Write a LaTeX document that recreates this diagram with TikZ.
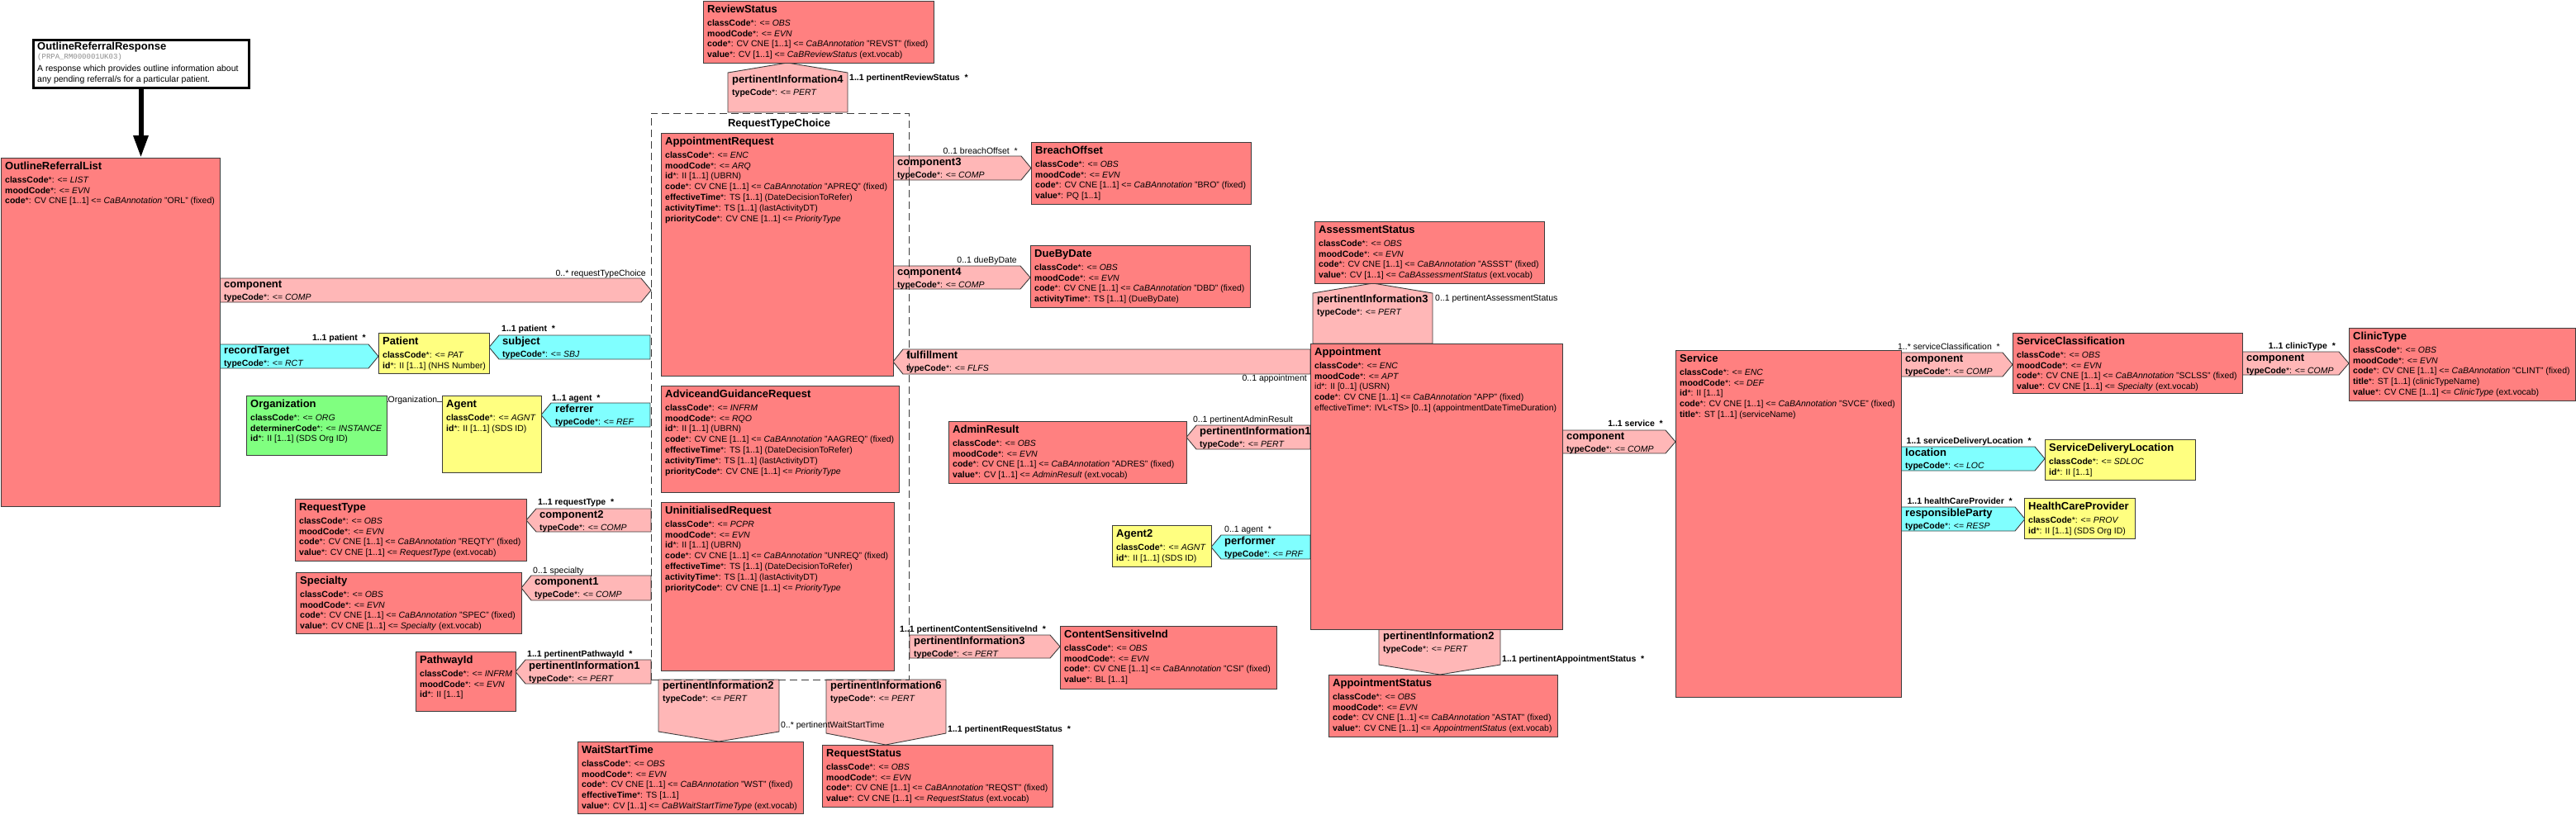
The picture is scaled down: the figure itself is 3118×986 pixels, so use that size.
\documentclass[tikz,border=0pt]{standalone}
\usepackage{fontspec}
\setmainfont{Liberation Sans}
\setmonofont{Liberation Mono}
\usetikzlibrary{arrows.meta}

\definecolor{actred}{RGB}{255,128,128}
\definecolor{relred}{RGB}{255,183,183}
\definecolor{partcyan}{RGB}{128,255,255}
\definecolor{roleyel}{RGB}{255,255,128}
\definecolor{entgrn}{RGB}{128,255,128}
\definecolor{lineclr}{RGB}{60,60,60}

\newcommand{\attrfont}{\fontsize{10.5}{12.8}\selectfont}
\newcommand{\clsname}[1]{{\fontsize{13}{15}\selectfont\bfseries\rule{0pt}{10pt}#1}}
\newcommand{\atn}[1]{\textbf{#1}*: }
\newcommand{\cab}{\textit{CaBAnnotation}}
\newcommand{\relbody}[2]{\clsname{#1}\\[1.5pt]\atn{typeCode}<= \textit{#2}}

\begin{document}
\begin{tikzpicture}[x=1pt, y=-1pt,
    box/.style={draw=lineclr, line width=0.9pt, anchor=north west, inner sep=0pt, outer sep=0pt},
    act/.style={box, fill=actred},
    role/.style={box, fill=roleyel},
    ent/.style={box, fill=entgrn},
    txt/.style={anchor=north west, align=left, inner sep=0pt, font=\attrfont},
    rel/.style={draw=lineclr, line width=0.9pt, fill=relred},
    part/.style={draw=lineclr, line width=0.9pt, fill=partcyan},
    mand/.style={inner sep=0pt, font=\attrfont\bfseries},
    opt/.style={inner sep=0pt, font=\attrfont}]

\fill[white] (0,0) rectangle (3118,986);
\useasboundingbox (0,0) rectangle (3118,986);

% act relationships and participations
\draw[rel] (266,337) -- (776,337) -- (788,351.5) -- (776,366) -- (266,366) -- cycle;
\node[txt] (comp0) at (271,338.7) {\relbody{component}{COMP}};
\draw[part] (266,417) -- (446,417) -- (458,431.5) -- (446,446) -- (266,446) -- cycle;
\node[txt] (rct) at (271,418.7) {\relbody{recordTarget}{RCT}};
\draw[part] (592,420.5) -- (604,406) -- (787,406) -- (787,435) -- (604,435) -- cycle;
\node[txt] (sbj) at (608,407.7) {\relbody{subject}{SBJ}};
\draw[part] (655,502.5) -- (667,488) -- (787,488) -- (787,517) -- (667,517) -- cycle;
\node[txt] (ref) at (672,489.7) {\relbody{referrer}{REF}};
\draw[rel] (637,630) -- (649,616) -- (788,616) -- (788,644) -- (649,644) -- cycle;
\node[txt] (comp2) at (653,617.7) {\relbody{component2}{COMP}};
\draw[rel] (631,712) -- (643,697) -- (788,697) -- (788,727) -- (643,727) -- cycle;
\node[txt] (comp1) at (647,698.7) {\relbody{component1}{COMP}};
\draw[rel] (624,813.5) -- (636,799) -- (788,799) -- (788,828) -- (636,828) -- cycle;
\node[txt] (pert1) at (640,800.7) {\relbody{pertinentInformation1}{PERT}};
\draw[rel] (881,136) -- (881,88) -- (953,76) -- (1026,88) -- (1026,136) -- cycle;
\node[txt] (pert4) at (886,90.5) {\relbody{pertinentInformation4}{PERT}};
\draw[rel] (1081,189) -- (1236,189) -- (1248,203.5) -- (1236,218) -- (1081,218) -- cycle;
\node[txt] (comp3) at (1086,190.7) {\relbody{component3}{COMP}};
\draw[rel] (1081,322) -- (1235,322) -- (1247,336) -- (1235,350) -- (1081,350) -- cycle;
\node[txt] (comp4) at (1086,323.7) {\relbody{component4}{COMP}};
\draw[rel] (1081,438) -- (1093,423) -- (1586,423) -- (1586,453) -- (1093,453) -- cycle;
\node[txt] (fulf) at (1097,424.7) {\relbody{fulfillment}{FLFS}};
\draw[rel] (1436,529.5) -- (1448,515) -- (1586,515) -- (1586,544) -- (1448,544) -- cycle;
\node[txt] (pert1b) at (1452,516.7) {\relbody{pertinentInformation1}{PERT}};
\draw[part] (1466,662.5) -- (1478,648) -- (1586,648) -- (1586,677) -- (1478,677) -- cycle;
\node[txt] (perf) at (1482,649.7) {\relbody{performer}{PRF}};
\draw[rel] (1589,416) -- (1589,355) -- (1662,343) -- (1734,355) -- (1734,416) -- cycle;
\node[txt] (pert3a) at (1594,356.5) {\relbody{pertinentInformation3}{PERT}};
\draw[rel] (1891,521) -- (2016,521) -- (2028,535) -- (2016,549) -- (1891,549) -- cycle;
\node[txt] (comp5) at (1896,522.7) {\relbody{component}{COMP}};
\draw[rel] (1669,762) -- (1816,762) -- (1816,805) -- (1743,817) -- (1669,805) -- cycle;
\node[txt] (pert2a) at (1674,764.5) {\relbody{pertinentInformation2}{PERT}};
\draw[rel] (2301,427) -- (2424,427) -- (2436,441.5) -- (2424,456) -- (2301,456) -- cycle;
\node[txt] (comp6) at (2306,428.7) {\relbody{component}{COMP}};
\draw[part] (2301,541) -- (2463,541) -- (2475,555.5) -- (2463,570) -- (2301,570) -- cycle;
\node[txt] (loc) at (2306,542.7) {\relbody{location}{LOC}};
\draw[part] (2301,614) -- (2439,614) -- (2451,628.5) -- (2439,643) -- (2301,643) -- cycle;
\node[txt] (resp) at (2306,615.7) {\relbody{responsibleParty}{RESP}};
\draw[rel] (2714,426) -- (2831,426) -- (2843,440) -- (2831,454) -- (2714,454) -- cycle;
\node[txt] (comp7) at (2719,427.7) {\relbody{component}{COMP}};
\draw[rel] (797,823) -- (943,823) -- (943,886) -- (870,898) -- (797,886) -- cycle;
\node[txt] (pert2b) at (802,824.5) {\relbody{pertinentInformation2}{PERT}};
\draw[rel] (1000,823) -- (1145,823) -- (1145,888) -- (1072,902) -- (1000,888) -- cycle;
\node[txt] (pert6) at (1005,824.5) {\relbody{pertinentInformation6}{PERT}};
\draw[rel] (1101,769) -- (1271,769) -- (1283,783) -- (1271,797) -- (1101,797) -- cycle;
\node[txt] (pert3b) at (1106,770.7) {\relbody{pertinentInformation3}{PERT}};

% entry point
\node[box, line width=3pt, draw=black, fill=white, minimum width=261, minimum height=58] (orr) at (40,48) {};
\node[txt] (orr-t) at (45,50) {\clsname{OutlineReferralResponse}\\[-1.8pt]
  {\fontsize{9}{10}\selectfont\ttfamily\color{black!45}(PRPA\_RM000001UK03)}\\[2.2pt]
  A response which provides outline information about\\[0.2pt]
  any pending referral/s for a particular patient.};

\node[act, minimum width=265, minimum height=422] (list) at (1,191) {};
\node[txt] (list-t) at ([shift={(5,4.5)}]list.north west) {\clsname{OutlineReferralList}\\[2.7pt]
  \atn{classCode}<= \textit{LIST}\\
  \atn{moodCode}<= \textit{EVN}\\
  \atn{code}CV CNE [1..1] <= \cab{} "ORL" (fixed)};
\draw[line width=6pt, -{Triangle[length=27pt, width=17pt]}] (orr.south) -- (orr.south |- list.north);

\node[role, minimum width=134, minimum height=49] (pat) at (458,403) {};
\node[txt] (pat-t) at ([shift={(5,4.5)}]pat.north west) {\clsname{Patient}\\[2.7pt]
  \atn{classCode}<= \textit{PAT}\\
  \atn{id}II [1..1] (NHS Number)};

\node[ent, minimum width=170, minimum height=72] (org) at (298,479) {};
\node[txt] (org-t) at ([shift={(5,4.5)}]org.north west) {\clsname{Organization}\\[2.7pt]
  \atn{classCode}<= \textit{ORG}\\
  \atn{determinerCode}<= \textit{INSTANCE}\\
  \atn{id}II [1..1] (SDS Org ID)};

\node[role, minimum width=120, minimum height=93] (agent) at (535,479) {};
\node[txt] (agent-t) at ([shift={(5,4.5)}]agent.north west) {\clsname{Agent}\\[2.7pt]
  \atn{classCode}<= \textit{AGNT}\\
  \atn{id}II [1..1] (SDS ID)};

\draw[line width=0.9pt, lineclr] (org.east |- 0,486) -- (agent.west |- 0,486);
\node[opt, fill=white, anchor=west] (orgrole) at (469.5,485) {Organization};

\node[act, minimum width=280, minimum height=75] (reqtype) at (357,604) {};
\node[txt] (reqtype-t) at ([shift={(5,4.5)}]reqtype.north west) {\clsname{RequestType}\\[2.7pt]
  \atn{classCode}<= \textit{OBS}\\
  \atn{moodCode}<= \textit{EVN}\\
  \atn{code}CV CNE [1..1] <= \cab{} "REQTY" (fixed)\\
  \atn{value}CV CNE [1..1] <= \textit{RequestType} (ext.vocab)};

\node[act, minimum width=273, minimum height=74] (spec) at (358,693) {};
\node[txt] (spec-t) at ([shift={(5,4.5)}]spec.north west) {\clsname{Specialty}\\[2.7pt]
  \atn{classCode}<= \textit{OBS}\\
  \atn{moodCode}<= \textit{EVN}\\
  \atn{code}CV CNE [1..1] <= \cab{} "SPEC" (fixed)\\
  \atn{value}CV CNE [1..1] <= \textit{Specialty} (ext.vocab)};

\node[act, minimum width=121, minimum height=72] (pathway) at (503,789) {};
\node[txt] (pathway-t) at ([shift={(5,4.5)}]pathway.north west) {\clsname{PathwayId}\\[2.7pt]
  \atn{classCode}<= \textit{INFRM}\\
  \atn{moodCode}<= \textit{EVN}\\
  \atn{id}II [1..1]};

\node[act, minimum width=279, minimum height=75] (review) at (851,1) {};
\node[txt] (review-t) at ([shift={(5,4.5)}]review.north west) {\clsname{ReviewStatus}\\[2.7pt]
  \atn{classCode}<= \textit{OBS}\\
  \atn{moodCode}<= \textit{EVN}\\
  \atn{code}CV CNE [1..1] <= \cab{} "REVST" (fixed)\\
  \atn{value}CV [1..1] <= \textit{CaBReviewStatus} (ext.vocab)};

\node[act, minimum width=281, minimum height=294] (aptreq) at (800,161) {};
\node[txt] (aptreq-t) at ([shift={(5,4.5)}]aptreq.north west) {\clsname{AppointmentRequest}\\[2.7pt]
  \atn{classCode}<= \textit{ENC}\\
  \atn{moodCode}<= \textit{ARQ}\\
  \atn{id}II [1..1] (UBRN)\\
  \atn{code}CV CNE [1..1] <= \cab{} "APREQ" (fixed)\\
  \atn{effectiveTime}TS [1..1] (DateDecisionToRefer)\\
  \atn{activityTime}TS [1..1] (lastActivityDT)\\
  \atn{priorityCode}CV CNE [1..1] <= \textit{PriorityType}};

\node[act, minimum width=288, minimum height=129] (advice) at (800,467) {};
\node[txt] (advice-t) at ([shift={(5,4.5)}]advice.north west) {\clsname{AdviceandGuidanceRequest}\\[2.7pt]
  \atn{classCode}<= \textit{INFRM}\\
  \atn{moodCode}<= \textit{RQO}\\
  \atn{id}II [1..1] (UBRN)\\
  \atn{code}CV CNE [1..1] <= \cab{} "AAGREQ" (fixed)\\
  \atn{effectiveTime}TS [1..1] (DateDecisionToRefer)\\
  \atn{activityTime}TS [1..1] (lastActivityDT)\\
  \atn{priorityCode}CV CNE [1..1] <= \textit{PriorityType}};

\node[act, minimum width=282, minimum height=204] (uninit) at (800,608) {};
\node[txt] (uninit-t) at ([shift={(5,4.5)}]uninit.north west) {\clsname{UninitialisedRequest}\\[2.7pt]
  \atn{classCode}<= \textit{PCPR}\\
  \atn{moodCode}<= \textit{EVN}\\
  \atn{id}II [1..1] (UBRN)\\
  \atn{code}CV CNE [1..1] <= \cab{} "UNREQ" (fixed)\\
  \atn{effectiveTime}TS [1..1] (DateDecisionToRefer)\\
  \atn{activityTime}TS [1..1] (lastActivityDT)\\
  \atn{priorityCode}CV CNE [1..1] <= \textit{PriorityType}};

\node[act, minimum width=266, minimum height=75] (breach) at (1248,172) {};
\node[txt] (breach-t) at ([shift={(5,4.5)}]breach.north west) {\clsname{BreachOffset}\\[2.7pt]
  \atn{classCode}<= \textit{OBS}\\
  \atn{moodCode}<= \textit{EVN}\\
  \atn{code}CV CNE [1..1] <= \cab{} "BRO" (fixed)\\
  \atn{value}PQ [1..1]};

\node[act, minimum width=266, minimum height=75] (dueby) at (1247,297) {};
\node[txt] (dueby-t) at ([shift={(5,4.5)}]dueby.north west) {\clsname{DueByDate}\\[2.7pt]
  \atn{classCode}<= \textit{OBS}\\
  \atn{moodCode}<= \textit{EVN}\\
  \atn{code}CV CNE [1..1] <= \cab{} "DBD" (fixed)\\
  \atn{activityTime}TS [1..1] (DueByDate)};

\node[act, minimum width=288, minimum height=75] (admin) at (1148,510) {};
\node[txt] (admin-t) at ([shift={(5,4.5)}]admin.north west) {\clsname{AdminResult}\\[2.7pt]
  \atn{classCode}<= \textit{OBS}\\
  \atn{moodCode}<= \textit{EVN}\\
  \atn{code}CV CNE [1..1] <= \cab{} "ADRES" (fixed)\\
  \atn{value}CV [1..1] <= \textit{AdminResult} (ext.vocab)};

\node[role, minimum width=120, minimum height=50] (agent2) at (1346,636) {};
\node[txt] (agent2-t) at ([shift={(5,4.5)}]agent2.north west) {\clsname{Agent2}\\[2.7pt]
  \atn{classCode}<= \textit{AGNT}\\
  \atn{id}II [1..1] (SDS ID)};

\node[act, minimum width=262, minimum height=76] (csi) at (1283,758) {};
\node[txt] (csi-t) at ([shift={(5,4.5)}]csi.north west) {\clsname{ContentSensitiveInd}\\[2.7pt]
  \atn{classCode}<= \textit{OBS}\\
  \atn{moodCode}<= \textit{EVN}\\
  \atn{code}CV CNE [1..1] <= \cab{} "CSI" (fixed)\\
  \atn{value}BL [1..1]};

\node[act, minimum width=273, minimum height=87] (wst) at (699,898) {};
\node[txt] (wst-t) at ([shift={(5,4.5)}]wst.north west) {\clsname{WaitStartTime}\\[2.7pt]
  \atn{classCode}<= \textit{OBS}\\
  \atn{moodCode}<= \textit{EVN}\\
  \atn{code}CV CNE [1..1] <= \cab{} "WST" (fixed)\\
  \atn{effectiveTime}TS [1..1]\\
  \atn{value}CV [1..1] <= \textit{CaBWaitStartTimeType} (ext.vocab)};

\node[act, minimum width=279, minimum height=75] (reqstat) at (995,902) {};
\node[txt] (reqstat-t) at ([shift={(5,4.5)}]reqstat.north west) {\clsname{RequestStatus}\\[2.7pt]
  \atn{classCode}<= \textit{OBS}\\
  \atn{moodCode}<= \textit{EVN}\\
  \atn{code}CV CNE [1..1] <= \cab{} "REQST" (fixed)\\
  \atn{value}CV CNE [1..1] <= \textit{RequestStatus} (ext.vocab)};

\node[act, minimum width=278, minimum height=75] (assess) at (1591,268) {};
\node[txt] (assess-t) at ([shift={(5,4.5)}]assess.north west) {\clsname{AssessmentStatus}\\[2.7pt]
  \atn{classCode}<= \textit{OBS}\\
  \atn{moodCode}<= \textit{EVN}\\
  \atn{code}CV CNE [1..1] <= \cab{} "ASSST" (fixed)\\
  \atn{value}CV [1..1] <= \textit{CaBAssessmentStatus} (ext.vocab)};

\node[act, minimum width=305, minimum height=346] (appt) at (1586,416) {};
\node[txt] (appt-t) at ([shift={(5,4.5)}]appt.north west) {\clsname{Appointment}\\[2.7pt]
  \atn{classCode}<= \textit{ENC}\\
  \atn{moodCode}<= \textit{APT}\\
  id*: II [0..1] (USRN)\\
  \atn{code}CV CNE [1..1] <= \cab{} "APP" (fixed)\\
  effectiveTime*: IVL<TS> [0..1] (appointmentDateTimeDuration)};

\node[act, minimum width=277, minimum height=75] (aptstat) at (1608,817) {};
\node[txt] (aptstat-t) at ([shift={(5,4.5)}]aptstat.north west) {\clsname{AppointmentStatus}\\[2.7pt]
  \atn{classCode}<= \textit{OBS}\\
  \atn{moodCode}<= \textit{EVN}\\
  \atn{code}CV CNE [1..1] <= \cab{} "ASTAT" (fixed)\\
  \atn{value}CV CNE [1..1] <= \textit{AppointmentStatus} (ext.vocab)};

\node[act, minimum width=273, minimum height=420] (service) at (2028,424) {};
\node[txt] (service-t) at ([shift={(5,4.5)}]service.north west) {\clsname{Service}\\[2.7pt]
  \atn{classCode}<= \textit{ENC}\\
  \atn{moodCode}<= \textit{DEF}\\
  \atn{id}II [1..1]\\
  \atn{code}CV CNE [1..1] <= \cab{} "SVCE" (fixed)\\
  \atn{title}ST [1..1] (serviceName)};

\node[act, minimum width=278, minimum height=73] (svcclass) at (2436,403) {};
\node[txt] (svcclass-t) at ([shift={(5,4.5)}]svcclass.north west) {\clsname{ServiceClassification}\\[2.7pt]
  \atn{classCode}<= \textit{OBS}\\
  \atn{moodCode}<= \textit{EVN}\\
  \atn{code}CV CNE [1..1] <= \cab{} "SCLSS" (fixed)\\
  \atn{value}CV CNE [1..1] <= \textit{Specialty} (ext.vocab)};

\node[act, minimum width=274, minimum height=88] (clinic) at (2843,397) {};
\node[txt] (clinic-t) at ([shift={(5,4.5)}]clinic.north west) {\clsname{ClinicType}\\[2.7pt]
  \atn{classCode}<= \textit{OBS}\\
  \atn{moodCode}<= \textit{EVN}\\
  \atn{code}CV CNE [1..1] <= \cab{} "CLINT" (fixed)\\
  \atn{title}ST [1..1] (clinicTypeName)\\
  \atn{value}CV CNE [1..1] <= \textit{ClinicType} (ext.vocab)};

\node[role, minimum width=182, minimum height=49] (sdl) at (2475,532) {};
\node[txt] (sdl-t) at ([shift={(5,4.5)}]sdl.north west) {\clsname{ServiceDeliveryLocation}\\[2.7pt]
  \atn{classCode}<= \textit{SDLOC}\\
  \atn{id}II [1..1]};

\node[role, minimum width=134, minimum height=49] (hcp) at (2450,603) {};
\node[txt] (hcp-t) at ([shift={(5,4.5)}]hcp.north west) {\clsname{HealthCareProvider}\\[2.7pt]
  \atn{classCode}<= \textit{PROV}\\
  \atn{id}II [1..1] (SDS Org ID)};

% choice box
\node[box, draw=lineclr, line width=0.9pt, dash pattern=on 9pt off 5pt, minimum width=312, minimum height=686] (rtc) at (788,137) {};
\node[inner sep=0pt] (rtc-t) at (943,150) {\clsname{RequestTypeChoice}};

% cardinalities
\node[opt, anchor=base east] (l-rtc) at (782,334.5) {0..* requestTypeChoice};
\node[mand, anchor=base east] (l-pat1) at (443,412.7) {1..1 patient\ \ *};
\node[mand, anchor=base west] (l-pat2) at (607,401.7) {1..1 patient\ \ *};
\node[mand, anchor=base west] (l-agt) at (668,485.7) {1..1 agent\ \ *};
\node[mand, anchor=base west] (l-rqt) at (651,611.7) {1..1 requestType\ \ *};
\node[opt, anchor=base west] (l-spc) at (645,694.7) {0..1 specialty};
\node[mand, anchor=base west] (l-pth) at (638,795.7) {1..1 pertinentPathwayId\ \ *};
\node[mand, anchor=base west] (l-rvw) at (1028,97.7) {1..1 pertinentReviewStatus\ \ *};
\node[opt, anchor=base east] (l-brc) at (1232,186.7) {0..1 breachOffset\ \ *};
\node[opt, anchor=base east] (l-dbd) at (1231,318.7) {0..1 dueByDate};
\node[opt, anchor=base east] (l-apt) at (1582,461.7) {0..1 appointment};
\node[opt, anchor=base east] (l-adm) at (1565,511.7) {0..1 pertinentAdminResult};
\node[opt, anchor=base west] (l-ag2) at (1482,644.7) {0..1 agent\ \ *};
\node[opt, anchor=base west] (l-ass) at (1737,364.7) {0..1 pertinentAssessmentStatus};
\node[mand, anchor=base east] (l-svc) at (2013,516.7) {1..1 service\ \ *};
\node[mand, anchor=base west] (l-ast) at (1818,801.7) {1..1 pertinentAppointmentStatus\ \ *};
\node[opt, anchor=base east] (l-scl) at (2421,423.7) {1..* serviceClassification\ \ *};
\node[mand, anchor=base east] (l-sdl) at (2459,537.7) {1..1 serviceDeliveryLocation\ \ *};
\node[mand, anchor=base east] (l-hcp) at (2436,610.7) {1..1 healthCareProvider\ \ *};
\node[mand, anchor=base east] (l-cln) at (2827,422.7) {1..1 clinicType\ \ *};
\node[opt, anchor=base west] (l-wst) at (945,881.7) {0..* pertinentWaitStartTime};
\node[mand, anchor=base west] (l-rqs) at (1147,886.7) {1..1 pertinentRequestStatus\ \ *};
\node[mand, anchor=base west] (l-csi) at (1089,765.7) {1..1 pertinentContentSensitiveInd\ \ *};
\end{tikzpicture}
\end{document}
